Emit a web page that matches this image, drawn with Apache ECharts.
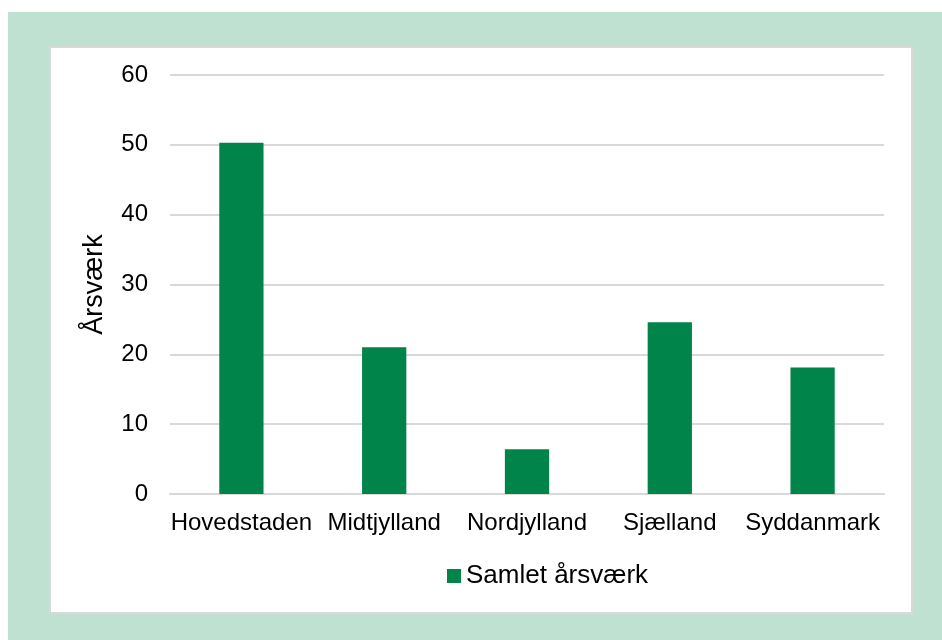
<!DOCTYPE html>
<html>
<head>
<meta charset="utf-8">
<script src="https://cdn.jsdelivr.net/npm/echarts@6/dist/echarts.min.js"></script>
<style>
  html, body { margin: 0; padding: 0; background: #fff; }
  #chart { width: 942px; height: 640px; }
</style>
</head>
<body>
<div id="chart"></div>
<script>
var regions = ['Hovedstaden', 'Midtjylland', 'Nordjylland', 'Sjælland', 'Syddanmark'];
var aarsvaerk = [50.3, 21.0, 6.4, 24.6, 18.1];
var seriesName = 'Samlet årsværk';
var axisTitle = 'Årsværk';

var myChart = echarts.init(document.getElementById('chart'));

var option = {
  animation: false,
  textStyle: { fontFamily: 'Liberation Sans, Arial, sans-serif' },
  graphic: [
    {
      type: 'rect', z: -10, silent: true,
      shape: { x: 8, y: 12, width: 934, height: 628 },
      style: { fill: '#bfe1d2' }
    },
    {
      type: 'rect', z: -9, silent: true,
      shape: { x: 50, y: 47, width: 862, height: 566 },
      style: { fill: '#ffffff', stroke: '#d9d9d9', lineWidth: 2 }
    }
  ],
  grid: { left: 170, right: 58, top: 75, bottom: 146 },
  legend: {
    data: [seriesName],
    left: 442,
    top: 558,
    icon: 'rect',
    itemWidth: 14,
    itemHeight: 14,
    itemGap: 5,
    itemStyle: { borderWidth: 0 },
    textStyle: { fontSize: 26, color: '#000' }
  },
  xAxis: {
    type: 'category',
    data: regions,
    axisLine: { show: true, lineStyle: { color: '#d9d9d9', width: 2 } },
    axisTick: { show: false },
    axisLabel: { fontSize: 24, color: '#000', margin: 17, interval: 0 }
  },
  yAxis: {
    type: 'value',
    min: 0, max: 60, interval: 10,
    name: axisTitle,
    nameLocation: 'middle',
    nameGap: 62,
    nameTextStyle: { fontSize: 27, color: '#000' },
    axisLine: { show: false },
    axisTick: { show: false },
    axisLabel: { fontSize: 24, color: '#000', margin: 22 },
    splitLine: { lineStyle: { color: '#d9d9d9', width: 2 } }
  },
  series: [{
    name: seriesName,
    type: 'bar',
    data: aarsvaerk,
    barWidth: '31%',
    itemStyle: { color: '#01844a' }
  }]
};

myChart.setOption(option);
</script>
</body>
</html>
